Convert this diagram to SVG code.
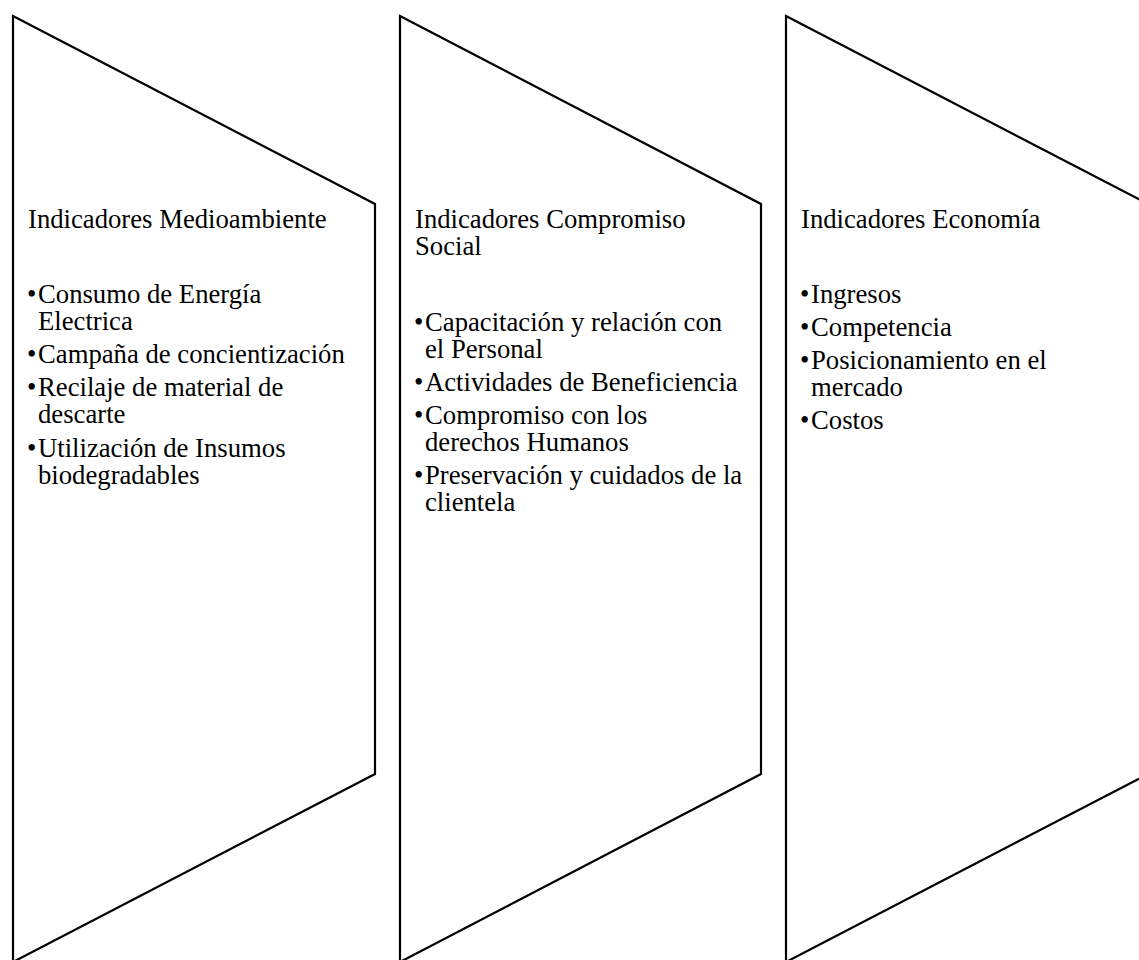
<svg xmlns="http://www.w3.org/2000/svg" width="1139" height="960" viewBox="0 0 1139 960">
<style>
.shape{fill:#ffffff;stroke:#000000;stroke-width:2.2;stroke-linejoin:miter}
text{font-family:"Liberation Serif","Times New Roman",serif;font-size:26.7px;fill:#000000}
</style>
<rect width="1139" height="960" fill="#ffffff"/>
<g id="connectors"></g>
<g id="node-medioambiente">
<polygon class="shape" points="13,16 375,204 375,774 13,962"/>
<text x="28" y="228">Indicadores Medioambiente</text>
<text x="27" y="303">•<tspan x="38">Consumo de Energía</tspan><tspan x="38" dy="27">Electrica</tspan></text>
<text x="27" y="363">•<tspan x="38">Campaña de concientización</tspan></text>
<text x="27" y="396">•<tspan x="38">Recilaje de material de</tspan><tspan x="38" dy="27">descarte</tspan></text>
<text x="27" y="457">•<tspan x="38">Utilización de Insumos</tspan><tspan x="38" dy="27">biodegradables</tspan></text>
</g>
<g id="node-compromiso-social">
<polygon class="shape" points="400,16 761,204 761,774 400,962"/>
<text x="415" y="228">Indicadores Compromiso<tspan x="415" dy="27">Social</tspan></text>
<text x="414" y="331">•<tspan x="425">Capacitación y relación con</tspan><tspan x="425" dy="27">el Personal</tspan></text>
<text x="414" y="391">•<tspan x="425">Actividades de Beneficiencia</tspan></text>
<text x="414" y="424">•<tspan x="425">Compromiso con los</tspan><tspan x="425" dy="27">derechos Humanos</tspan></text>
<text x="414" y="484">•<tspan x="425">Preservación y cuidados de la</tspan><tspan x="425" dy="27">clientela</tspan></text>
</g>
<g id="node-economia">
<polygon class="shape" points="786,16 1148,204 1148,774 786,962"/>
<text x="801" y="228">Indicadores Economía</text>
<text x="800" y="303">•<tspan x="811">Ingresos</tspan></text>
<text x="800" y="336">•<tspan x="811">Competencia</tspan></text>
<text x="800" y="369">•<tspan x="811">Posicionamiento en el</tspan><tspan x="811" dy="27">mercado</tspan></text>
<text x="800" y="429">•<tspan x="811">Costos</tspan></text>
</g>
</svg>
